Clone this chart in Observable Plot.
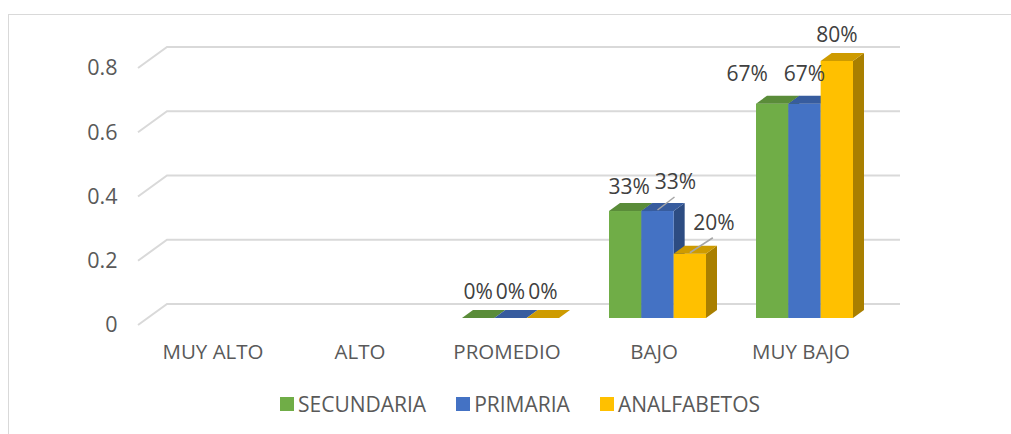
<!DOCTYPE html>
<html><head><meta charset="utf-8">
<script src="https://cdn.jsdelivr.net/npm/d3@7"></script>
<script src="https://cdn.jsdelivr.net/npm/@observablehq/plot@0.6"></script>
<style>
html,body{margin:0;padding:0;background:#fff;overflow:hidden;width:1011px;height:434px;position:relative;}
#frame{position:absolute;left:8px;top:14px;width:1100px;height:500px;border:1.5px solid #d9d9d9;box-sizing:border-box;}
#chart{position:absolute;left:0;top:0;}
#legend{position:absolute;top:390px;left:280px;display:flex;align-items:center;font-family:"Open Sans",sans-serif;font-size:21px;color:#595959;white-space:nowrap;}
.item{display:flex;align-items:center;margin-right:30px}
.sw{width:14px;height:14px;margin-right:4px}
</style></head>
<body>
<div id="frame"></div>
<div id="chart"></div>
<div id="legend"></div>
<script>
const categories = ["MUY ALTO", "ALTO", "PROMEDIO", "BAJO", "MUY BAJO"];
const seriesNames = ["SECUNDARIA", "PRIMARIA", "ANALFABETOS"];
const secundaria = [null, null, 0, 0.333, 0.667];
const primaria = [null, null, 0, 0.333, 0.667];
const analfabetos = [null, null, 0, 0.2, 0.8];
const yTicks = [0, 0.2, 0.4, 0.6, 0.8];
const colors = ["#70AD47", "#4472C4", "#FFC000"];

const seriesValues = [secundaria, primaria, analfabetos];
const rows = [];
categories.forEach((c, ci) => {
  seriesNames.forEach((s, si) => {
    const v = seriesValues[si][ci];
    if (v !== null) rows.push({cat: c, series: s, si, value: v});
  });
});

const DX = 11, DY = 8;
const fmt = d3.format(".0%");
const nudges = {
  "BAJO|SECUNDARIA": {dx: 4, dy: 2},
  "BAJO|PRIMARIA": {dx: 18, dy: -3, leader: true},
  "BAJO|ANALFABETOS": {dx: 24, dy: -5, leader: true},
  "MUY BAJO|SECUNDARIA": {dx: -25, dy: -4},
  "MUY BAJO|PRIMARIA": {dx: 0, dy: -4},
  "MUY BAJO|ANALFABETOS": {dx: 0, dy: 0}
};

function bw(scales) {
  const xs = scales.x;
  return typeof xs.bandwidth === "function" ? xs.bandwidth() : (xs(categories[1]) - xs(categories[0])) * 0.663;
}

const plot = Plot.plot({
  width: 1011,
  height: 380,
  marginLeft: 143,
  marginRight: 133,
  marginTop: 61,
  marginBottom: 62,
  style: {fontFamily: "'Open Sans', sans-serif", fontSize: "20px", background: "transparent", overflow: "visible"},
  x: {type: "band", domain: categories, paddingInner: 0.337, paddingOuter: 0.1685, axis: null},
  y: {domain: [0, 0.8], axis: null},
  marks: [
    Plot.ruleY(yTicks, {
      y: d => d,
      render(index, scales, values, dims) {
        const g = d3.create("svg:g");
        const l = dims.marginLeft, r = dims.width - dims.marginRight;
        for (const t of yTicks) {
          const yb = scales.y(t);
          g.append("path")
            .attr("d", `M${l - 5},${yb + 7}L${l + 24},${yb - 14}L${r + 22},${yb - 14}`)
            .attr("fill", "none").attr("stroke", "#d9d9d9").attr("stroke-width", 2);
        }
        return g.node();
      }
    }),
    Plot.text(yTicks, {
      y: d => d, text: d => String(d), frameAnchor: "left", textAnchor: "end",
      dx: -26, dy: 7, fill: "#595959", fontSize: 21.5
    }),
    Plot.text(categories, {
      x: d => d, text: d => d, frameAnchor: "bottom", dy: 40, dx: -4,
      fill: "#595959", fontSize: 20.5
    }),
    Plot.dot(rows, {
      x: "cat", y: "value",
      render(index, scales, values, dims) {
        const g = d3.create("svg:g");
        const w = bw(scales) / 3;
        for (const i of index) {
          const d = rows[i];
          const c = d3.color(colors[d.si]);
          const x0 = scales.x(d.cat) + d.si * w, x1 = x0 + w;
          const yT = scales.y(d.value), yB = scales.y(0);
          g.append("path")
            .attr("d", `M${x1},${yT}L${x1 + DX},${yT - DY}L${x1 + DX},${yB - DY}L${x1},${yB}Z`)
            .attr("fill", c.darker(1.15).formatHex());
          if (yB - yT > 0)
            g.append("rect").attr("x", x0).attr("y", yT).attr("width", w).attr("height", yB - yT)
              .attr("fill", c.formatHex());
          g.append("path")
            .attr("d", `M${x0},${yT}L${x1},${yT}L${x1 + DX},${yT - DY}L${x0 + DX},${yT - DY}Z`)
            .attr("fill", c.darker(0.6).formatHex());
        }
        return g.node();
      }
    }),
    Plot.text(rows, {
      x: "cat", y: "value",
      render(index, scales, values, dims) {
        const g = d3.create("svg:g");
        const w = bw(scales) / 3;
        for (const i of index) {
          const d = rows[i];
          const n = nudges[d.cat + "|" + d.series] || {dx: 0, dy: 0};
          const cx = scales.x(d.cat) + d.si * w + w / 2;
          const yT = scales.y(d.value);
          const lx = cx + n.dx, ly = yT - 27 + n.dy;
          if (n.leader) {
            g.append("line").attr("x1", cx).attr("y1", yT - 1).attr("x2", lx - 1).attr("y2", ly + 16)
              .attr("stroke", "#a6a6a6").attr("stroke-width", 1.5);
          }
          g.append("text").attr("x", lx).attr("y", ly)
            .attr("text-anchor", "middle").attr("dominant-baseline", "central")
            .attr("fill", "#404040").attr("font-size", 21)
            .text(fmt(d.value));
        }
        return g.node();
      }
    })
  ]
});
document.getElementById("chart").appendChild(plot);

const legend = document.getElementById("legend");
seriesNames.forEach((s, i) => {
  const item = document.createElement("div");
  item.className = "item";
  const sw = document.createElement("span");
  sw.className = "sw";
  sw.style.background = colors[i];
  const t = document.createElement("span");
  t.textContent = s;
  item.appendChild(sw);
  item.appendChild(t);
  legend.appendChild(item);
});
</script>
</body></html>
